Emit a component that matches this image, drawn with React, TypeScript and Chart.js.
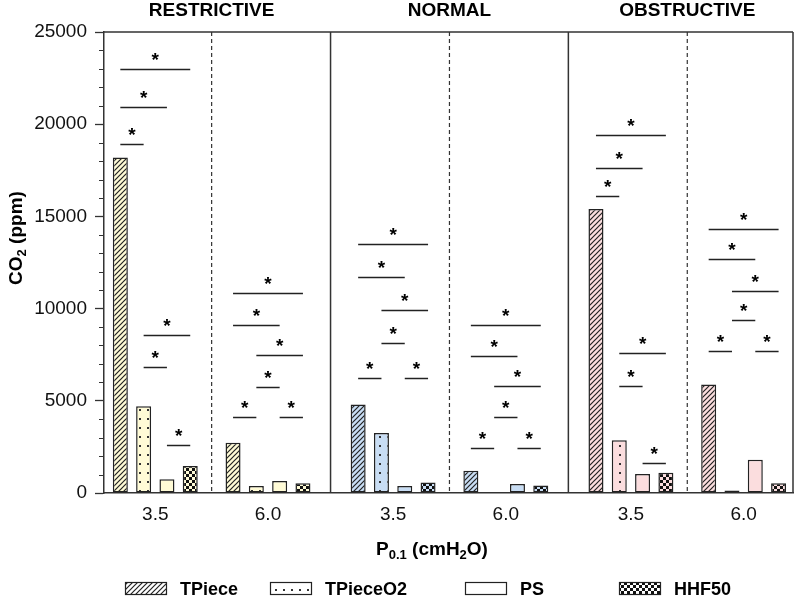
import React, { useEffect, useRef } from "react";
import { Chart, registerables } from "chart.js";

Chart.register(...registerables);

const W = 797;
const H = 598;
const FONT = '"Liberation Sans", Arial, Helvetica, sans-serif';

// ---------- data ----------
const panels = ["RESTRICTIVE", "NORMAL", "OBSTRUCTIVE"];
const levels = ["3.5", "6.0"];
const seriesNames = ["TPiece", "TPieceO2", "PS", "HHF50"];
// order of groups: RESTRICTIVE 3.5, 6.0, NORMAL 3.5, 6.0, OBSTRUCTIVE 3.5, 6.0
const tpiece = [18200, 2730, 4800, 1200, 15400, 5880];
const tpieceO2 = [4700, 380, 3250, 0, 2860, 130];
const ps = [750, 650, 380, 490, 1030, 1800];
const hhf50 = [1470, 530, 570, 400, 1100, 530];
const seriesValues = [tpiece, tpieceO2, ps, hhf50];
const seriesPatterns = ["hatch", "dots", "plain", "checker"];
const panelColors = ["#FFFBD6", "#C8DDF4", "#FBDDDE"];

const yMax = 25000;
const yMajorStep = 5000;
const yMinorStep = 1000;

// significance brackets: [group index, from series, to series, height (ppm)]
const brackets: number[][] = [
  [0, 0, 1, 18910], [0, 0, 2, 20950], [0, 0, 3, 22990],
  [0, 1, 3, 8580], [0, 1, 2, 6815], [0, 2, 3, 2600],
  [1, 0, 3, 10830], [1, 0, 2, 9110], [1, 1, 3, 7480],
  [1, 1, 2, 5730], [1, 0, 1, 4140], [1, 2, 3, 4140],
  [2, 0, 3, 13490], [2, 0, 2, 11700], [2, 1, 3, 9920],
  [2, 1, 2, 8150], [2, 0, 1, 6250], [2, 2, 3, 6250],
  [3, 0, 3, 9130], [3, 0, 2, 7450], [3, 1, 3, 5820],
  [3, 1, 2, 4120], [3, 0, 1, 2460], [3, 2, 3, 2460],
  [4, 0, 3, 19430], [4, 0, 2, 17620], [4, 0, 1, 16120],
  [4, 1, 3, 7590], [4, 1, 2, 5820], [4, 2, 3, 1610],
  [5, 0, 3, 14320], [5, 0, 2, 12690], [5, 1, 3, 10970],
  [5, 1, 2, 9380], [5, 0, 1, 7720], [5, 2, 3, 7720],
];

// ---------- layout constants ----------
const PANEL_STEP = 2.11; // x-units between the same level of adjacent panels
const X_MIN = -0.455;
const X_MAX = 5.658;
const CHART_TOP = 32;
const CHART_BOTTOM = 493;
const Y_AXIS_W = 104;
const LEGEND_X = [125, 270, 465, 619];
const X_TITLE_CX = 432;

const groupPos = (g: number) => Math.floor(g / 2) * PANEL_STEP + (g % 2);
const groupPositions = [0, 1, 2, 3, 4, 5].map(groupPos);

function makePattern(type: string, bg: string): CanvasPattern | string {
  if (type === "plain") return bg;
  const c = document.createElement("canvas");
  const x = c.getContext("2d")!;
  if (type === "hatch") {
    const s = 5;
    c.width = s; c.height = s;
    x.fillStyle = bg; x.fillRect(0, 0, s, s);
    x.strokeStyle = "#222"; x.lineWidth = 1.2;
    x.beginPath();
    x.moveTo(0, s); x.lineTo(s, 0);
    x.moveTo(-1, 1); x.lineTo(1, -1);
    x.moveTo(s - 1, s + 1); x.lineTo(s + 1, s - 1);
    x.stroke();
  } else if (type === "dots") {
    c.width = 8; c.height = 9;
    x.fillStyle = bg; x.fillRect(0, 0, 8, 9);
    x.fillStyle = "#333"; x.fillRect(3, 4, 2, 2);
  } else if (type === "checker") {
    c.width = 6; c.height = 6;
    x.fillStyle = bg; x.fillRect(0, 0, 6, 6);
    x.fillStyle = "#111"; x.fillRect(0, 0, 3, 3); x.fillRect(3, 3, 3, 3);
  }
  return x.createPattern(c, "repeat")!;
}

type Part = [string, boolean];
function drawRich(ctx: CanvasRenderingContext2D, parts: Part[], cx: number, baseline: number, size: number) {
  const subSize = Math.round(size * 0.68);
  let total = 0;
  const widths = parts.map(([t, sub]) => {
    ctx.font = `bold ${sub ? subSize : size}px ${FONT}`;
    const w = ctx.measureText(t).width;
    total += w;
    return w;
  });
  let x = cx - total / 2;
  ctx.textAlign = "left";
  ctx.textBaseline = "alphabetic";
  parts.forEach(([t, sub], i) => {
    ctx.font = `bold ${sub ? subSize : size}px ${FONT}`;
    ctx.fillText(t, x, baseline + (sub ? size * 0.22 : 0));
    x += widths[i];
  });
}

export default function App() {
  const ref = useRef<HTMLCanvasElement>(null);

  useEffect(() => {
    const canvas = ref.current!;
    const patterns = seriesPatterns.map((p) => panelColors.map((col) => makePattern(p, col)));
    const legendPatterns = seriesPatterns.map((p) => makePattern(p, "#FFFFFF"));

    const decor = {
      id: "decor",
      beforeDatasetsDraw(chart: any) {
        const { ctx, chartArea: a, scales } = chart;
        const xs = scales.x;
        ctx.save();
        ctx.strokeStyle = "#333";
        ctx.lineWidth = 1.5;
        ctx.beginPath();
        ctx.moveTo(a.left, a.top); ctx.lineTo(a.right, a.top);
        ctx.moveTo(a.right, a.top); ctx.lineTo(a.right, a.bottom);
        for (let p = 0; p < panels.length - 1; p++) {
          const px = xs.getPixelForValue((groupPos(p * 2 + 1) + groupPos(p * 2 + 2)) / 2);
          ctx.moveTo(px, a.top); ctx.lineTo(px, a.bottom);
        }
        ctx.stroke();
        ctx.setLineDash([4, 3]);
        ctx.lineWidth = 1.2;
        ctx.beginPath();
        for (let p = 0; p < panels.length; p++) {
          const px = xs.getPixelForValue((groupPos(p * 2) + groupPos(p * 2 + 1)) / 2);
          ctx.moveTo(px, a.top); ctx.lineTo(px, a.bottom);
        }
        ctx.stroke();
        ctx.restore();
      },
      afterDatasetsDraw(chart: any) {
        const { ctx, scales } = chart;
        const ys = scales.y;
        ctx.save();
        ctx.strokeStyle = "#222";
        ctx.lineWidth = 1.5;
        ctx.fillStyle = "#000";
        brackets.forEach(([g, s1, s2, v]) => {
          const x1 = chart.getDatasetMeta(s1).data[g].x;
          const x2 = chart.getDatasetMeta(s2).data[g].x;
          const y = Math.round(ys.getPixelForValue(v)) + 0.5;
          ctx.beginPath();
          ctx.moveTo(x1, y); ctx.lineTo(x2, y);
          ctx.stroke();
          ctx.font = `bold 19px ${FONT}`;
          ctx.textAlign = "center";
          ctx.textBaseline = "alphabetic";
          ctx.fillText("*", (x1 + x2) / 2, y - 4);
        });
        ctx.restore();
      },
      afterDraw(chart: any) {
        const { ctx, chartArea: a, scales } = chart;
        const xs = scales.x;
        const ys = scales.y;
        ctx.save();
        ctx.fillStyle = "#000";
        ctx.strokeStyle = "#333";
        ctx.lineWidth = 1.2;
        ctx.beginPath();
        for (let v = 0; v <= yMax; v += yMinorStep) {
          if (v % yMajorStep === 0) continue;
          const y = Math.round(ys.getPixelForValue(v)) + 0.5;
          ctx.moveTo(a.left - 5, y); ctx.lineTo(a.left, y);
        }
        ctx.stroke();
        ctx.font = `bold 19px ${FONT}`;
        ctx.textAlign = "center";
        ctx.textBaseline = "alphabetic";
        panels.forEach((name, p) => {
          const px = xs.getPixelForValue((groupPos(p * 2) + groupPos(p * 2 + 1)) / 2);
          ctx.fillText(name, px, 16);
        });
        drawRich(ctx, [["P", false], ["0.1", true], [" (cmH", false], ["2", true], ["O)", false]], X_TITLE_CX, 555, 19);
        ctx.save();
        ctx.translate(22, 238);
        ctx.rotate(-Math.PI / 2);
        drawRich(ctx, [["CO", false], ["2", true], [" (ppm)", false]], 0, 0, 19);
        ctx.restore();
        seriesNames.forEach((name, i) => {
          const bx = LEGEND_X[i];
          const by = 582;
          ctx.fillStyle = legendPatterns[i] as any;
          ctx.fillRect(bx, by, 42, 13);
          ctx.strokeStyle = "#222";
          ctx.lineWidth = 1.2;
          ctx.strokeRect(bx + 0.5, by + 0.5, 41, 12);
          ctx.fillStyle = "#000";
          ctx.font = `bold 18px ${FONT}`;
          ctx.textAlign = "left";
          ctx.textBaseline = "alphabetic";
          ctx.fillText(name, bx + 55, by + 13);
        });
        ctx.restore();
      },
    };

    const chart = new Chart(canvas, {
      type: "bar",
      data: {
        datasets: seriesValues.map((vals, s) => ({
          label: seriesNames[s],
          data: vals.map((v, g) => ({ x: groupPositions[g], y: v })),
          backgroundColor: (c: any) => patterns[s][Math.floor(c.dataIndex / 2)],
          borderColor: "#222",
          borderWidth: (c: any) => (c.raw && c.raw.y === 0 ? 0 : 1.5),
          borderSkipped: false,
          categoryPercentage: 0.827,
          barPercentage: 0.644,
        })) as any,
      },
      options: {
        animation: false,
        responsive: false,
        devicePixelRatio: 1,
        layout: { padding: { left: 0, right: W - 793, top: CHART_TOP, bottom: H - CHART_BOTTOM - 32 } },
        plugins: { legend: { display: false }, tooltip: { enabled: false } },
        scales: {
          x: {
            type: "linear",
            min: X_MIN,
            max: X_MAX,
            offset: false,
            afterBuildTicks: (s: any) => {
              s.ticks = groupPositions.map((v) => ({ value: v }));
            },
            afterFit: (s: any) => { s.height = 32; },
            grid: { display: false, drawTicks: false, offset: false },
            border: { display: true, color: "#333", width: 1.5 },
            ticks: {
              autoSkip: false,
              maxRotation: 0,
              padding: 10,
              color: "#111",
              font: { family: FONT, size: 19 },
              callback: (_v: any, i: number) => levels[i % 2],
            },
          },
          y: {
            min: 0,
            max: yMax,
            afterFit: (s: any) => { s.width = Y_AXIS_W; },
            grid: { drawOnChartArea: false, tickLength: 9, tickColor: "#333", tickWidth: 1.3 },
            border: { display: true, color: "#333", width: 1.5 },
            ticks: {
              stepSize: yMajorStep,
              padding: 8,
              color: "#111",
              font: { family: FONT, size: 19 },
              callback: (v: any) => String(v),
            },
          },
        },
      } as any,
      plugins: [decor],
    });
    return () => chart.destroy();
  }, []);

  return (
    <div style={{ position: "fixed", left: 0, top: 0, width: W, height: H, background: "#fff" }}>
      <canvas ref={ref} width={W} height={H} style={{ display: "block", width: W, height: H }} />
    </div>
  );
}
